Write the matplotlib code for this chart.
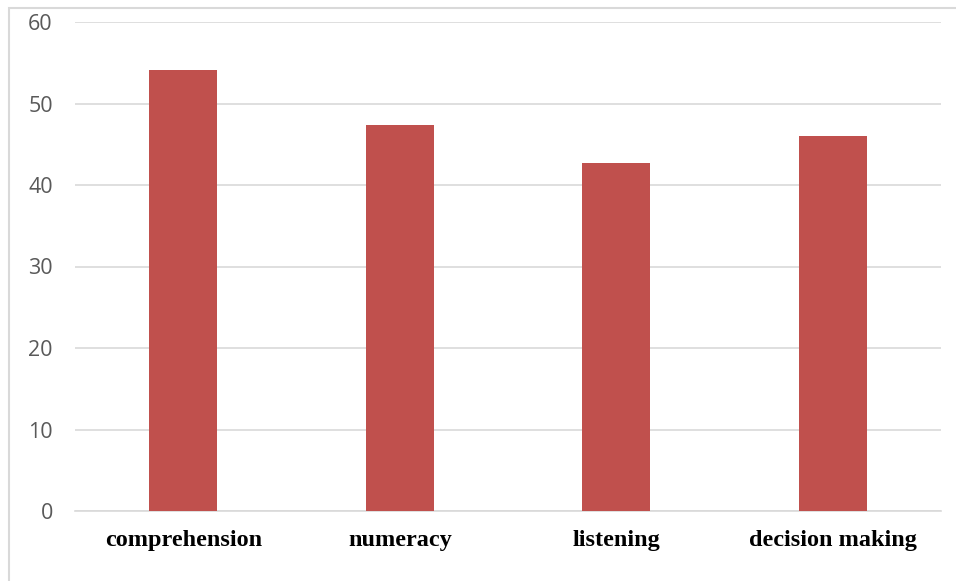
import matplotlib
matplotlib.use("Agg")
import matplotlib.pyplot as plt
from matplotlib.patches import Rectangle

# Scores by skill
categorias = ["comprehension", "numeracy", "listening", "decision making"]
valores = [54.1, 47.4, 42.7, 46.0]
ticks_y = [0, 10, 20, 30, 40, 50, 60]

W, H = 956, 581
fig = plt.figure(figsize=(W / 100, H / 100), dpi=100)
ax = fig.add_axes([75 / W, (H - 511) / H, (941 - 75) / W, (511 - 22) / H])

x = range(len(categorias))
ax.bar(x, valores, width=0.315, color="#C0504D", zorder=3)

ax.set_xlim(-0.5, len(categorias) - 0.5)
ax.set_ylim(0, 60)
ax.set_yticks(ticks_y)
ax.set_yticklabels([str(t) for t in ticks_y], fontsize=15.5, color="#595959",
                   family="Open Sans")
ax.set_xticks(list(x))
ax.set_xticklabels(categorias, fontsize=17.5, fontweight="bold",
                   family="Liberation Serif", color="black")

ax.yaxis.grid(True, color="#D9D9D9", linewidth=1.2, zorder=0)
ax.tick_params(axis="both", length=0)
ax.tick_params(axis="y", pad=16)
ax.tick_params(axis="x", pad=14)
for lado in ["top", "right", "left"]:
    ax.spines[lado].set_visible(False)
ax.spines["bottom"].set_color("#D9D9D9")
ax.spines["bottom"].set_linewidth(1.2)

# Marco gris alrededor del grafico
fig.patches.append(Rectangle((8.5 / W, -0.1), 1.2, (H - 7.5) / H + 0.1,
                             transform=fig.transFigure, fill=False,
                             edgecolor="#D9D9D9", linewidth=1.5))

plt.savefig("out.png", dpi=100)
plt.close()
